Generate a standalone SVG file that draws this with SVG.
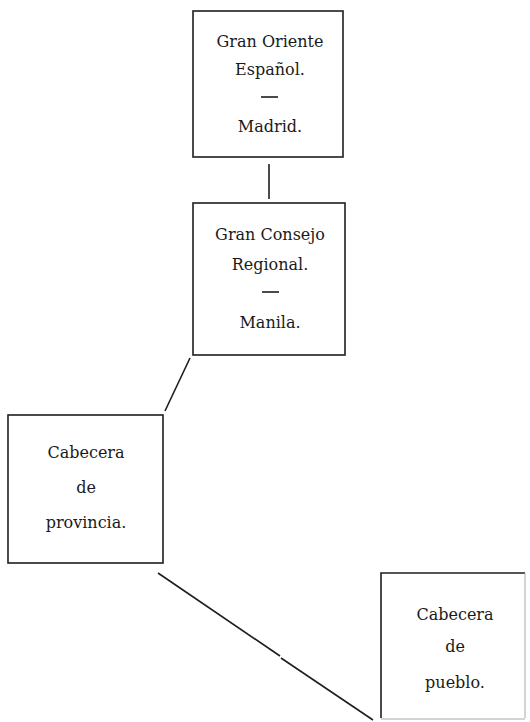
<svg xmlns="http://www.w3.org/2000/svg" width="530" height="722" viewBox="0 0 530 722">
<style>
.box{fill:none;stroke:#1e1e1e;stroke-width:1.6}
.faint{fill:none;stroke:#a8a8a8;stroke-width:1}
.t{font-family:"DejaVu Serif","Liberation Serif",serif;font-size:16px;fill:#1a1a1a;text-anchor:middle}
.c{stroke:#1e1e1e;stroke-width:1.6;fill:none}
</style>
<rect x="0" y="0" width="530" height="722" fill="#ffffff"/>
<g id="connectors">
<line class="c" x1="269" y1="164" x2="269" y2="199"/>
<line class="c" x1="190" y1="358" x2="165" y2="411"/>
<line class="c" x1="158" y1="573" x2="280" y2="656"/>
<line class="c" x1="281" y1="658" x2="373" y2="720"/>
</g>
<g id="gran-oriente">
<rect class="box" x="193" y="11" width="150" height="146"/>
<text class="t" x="270" y="47">Gran Oriente</text>
<text class="t" x="270" y="75">Español.</text>
<line class="c" x1="261" y1="97" x2="278" y2="97"/>
<text class="t" x="270" y="132">Madrid.</text>
</g>
<g id="gran-consejo">
<rect class="box" x="193" y="203" width="152" height="152"/>
<text class="t" x="270" y="240">Gran Consejo</text>
<text class="t" x="270" y="270">Regional.</text>
<line class="c" x1="262" y1="292" x2="279" y2="292"/>
<text class="t" x="270" y="328">Manila.</text>
</g>
<g id="cabecera-provincia">
<rect class="box" x="8" y="415" width="155" height="148"/>
<text class="t" x="86" y="458">Cabecera</text>
<text class="t" x="86" y="493">de</text>
<text class="t" x="86" y="528">provincia.</text>
</g>
<g id="cabecera-pueblo">
<path class="box" d="M381,718 V573 H525"/>
<path class="faint" d="M525,573 V718 M381,719 H525"/>
<text class="t" x="455" y="620">Cabecera</text>
<text class="t" x="455" y="652">de</text>
<text class="t" x="455" y="688">pueblo.</text>
</g>
</svg>
